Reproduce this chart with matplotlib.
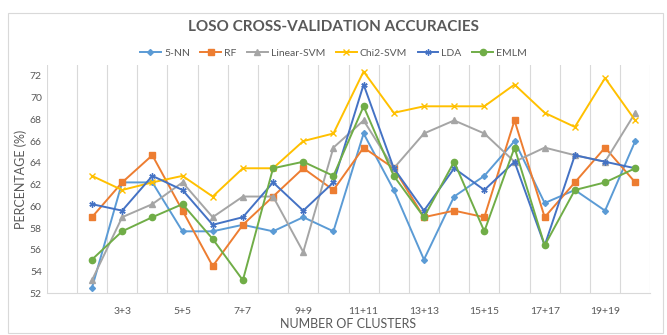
import matplotlib.pyplot as plt
from matplotlib.patches import Rectangle

# category 0 is an empty slot, then 2+2 ... 20+20
categories = [""] + [f"{n}+{n}" for n in range(2, 21)]

knn5 = [52.5, 62.2, 62.2, 57.7, 57.7, 58.3, 57.7, 59.0, 57.7, 66.7, 61.5, 55.1, 60.9, 62.8, 66.0, 60.3, 61.5, 59.6, 66.0]
rf = [59.0, 62.2, 64.7, 59.6, 54.5, 58.3, 60.9, 63.5, 61.5, 65.4, 63.5, 59.0, 59.6, 59.0, 67.9, 59.0, 62.2, 65.4, 62.2]
linear_svm = [53.2, 59.0, 60.2, 62.2, 59.0, 60.9, 60.9, 55.8, 65.4, 67.9, 63.5, 66.7, 67.9, 66.7, 64.1, 65.4, 64.7, 64.1, 68.6]
chi2_svm = [62.8, 61.5, 62.2, 62.8, 60.9, 63.5, 63.5, 66.0, 66.7, 72.4, 68.6, 69.2, 69.2, 69.2, 71.2, 68.6, 67.3, 71.8, 67.9]
lda = [60.2, 59.6, 62.8, 61.5, 58.3, 59.0, 62.2, 59.6, 62.2, 71.2, 63.5, 59.6, 63.5, 61.5, 64.1, 56.4, 64.7, 64.1, 63.5]
emlm = [55.1, 57.7, 59.0, 60.2, 57.0, 53.2, 63.5, 64.1, 62.8, 69.2, 62.8, 59.0, 64.1, 57.7, 65.4, 56.4, 61.5, 62.2, 63.5]

series = [
    ("5-NN", knn5, "#5B9BD5", "D", 3.0, 1.0),
    ("RF", rf, "#ED7D31", "s", 4.5, 1.0),
    ("Linear-SVM", linear_svm, "#A5A5A5", "^", 4.5, 1.0),
    ("Chi2-SVM", chi2_svm, "#FFC000", "x", 4.0, 1.0),
    ("LDA", lda, "#4472C4", (6, 2, 0), 4.5, 1.0),
    ("EMLM", emlm, "#70AD47", "o", 4.5, 1.0),
]

plt.rcParams['font.family'] = ['Lato', 'DejaVu Sans']
text_color = "#595959"

fig = plt.figure(figsize=(6.67, 3.35), dpi=100)
ax = fig.add_axes([0.070, 0.1245, 0.905, 0.6815])

x = list(range(1, len(categories)))
for name, vals, color, marker, ms, mew in series:
    ax.plot(x, vals, color=color, lw=1.4, marker=marker, markersize=ms,
            markeredgewidth=mew, label=name)

ax.set_xlim(-0.5, len(categories) - 0.5)
ax.set_ylim(52, 73)
ax.set_yticks(range(52, 73, 2))
ax.set_xticks(range(2, len(categories), 2))
ax.set_xticklabels(categories[2::2])
ax.set_xticks([i - 0.5 for i in range(len(categories) + 1)], minor=True)
ax.grid(True, which="minor", axis="x", color="#D9D9D9", lw=0.8)
ax.tick_params(axis="both", which="both", length=0, colors=text_color, labelsize=7.5)
ax.tick_params(axis="x", pad=10)
for side in ["top", "right", "left"]:
    ax.spines[side].set_visible(False)
ax.spines["bottom"].set_color("#D9D9D9")

ax.set_xlabel("NUMBER OF CLUSTERS", color=text_color, fontsize=9, labelpad=1)
ax.set_ylabel("PERCENTAGE (%)", color=text_color, fontsize=9, labelpad=2)

fig.text(0.5, 0.919, "LOSO CROSS-VALIDATION ACCURACIES", ha="center", va="center",
         fontsize=11, fontweight="bold", color=text_color)
leg = fig.legend(loc="center", bbox_to_anchor=(0.5, 0.842), ncol=6, frameon=False,
                 fontsize=7.5, handlelength=2.0, columnspacing=1.0, handletextpad=0.3)
for t in leg.get_texts():
    t.set_color(text_color)

fig.patches.append(Rectangle((0.012, 0.005), 0.982, 0.955, transform=fig.transFigure,
                             fill=False, edgecolor="#D9D9D9", lw=0.8))

fig.savefig("out.png", dpi=100)
